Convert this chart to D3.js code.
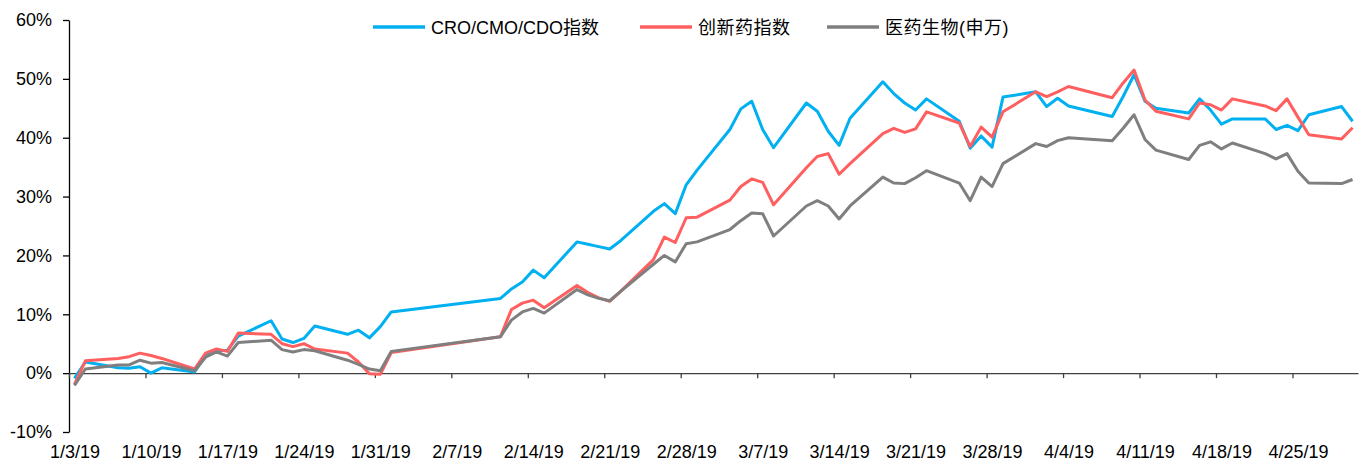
<!DOCTYPE html>
<html>
<head>
<meta charset="utf-8">
<script src="https://cdn.jsdelivr.net/npm/d3@7"></script>
<style>
body { margin: 0; background: #fff; }
text { font-family: "Liberation Sans", Arial, "Noto Sans CJK SC", sans-serif; fill: #000; }
</style>
</head>
<body>
<svg id="chart" width="1372" height="463"></svg>
<script>
// trading days (gaps = weekends / holidays)
var dates = [
	"2019-01-03", "2019-01-04", "2019-01-07", "2019-01-08", "2019-01-09", "2019-01-10", "2019-01-11",
	"2019-01-14", "2019-01-15", "2019-01-16", "2019-01-17", "2019-01-18",
	"2019-01-21", "2019-01-22", "2019-01-23", "2019-01-24", "2019-01-25",
	"2019-01-28", "2019-01-29", "2019-01-30", "2019-01-31", "2019-02-01",
	"2019-02-11", "2019-02-12", "2019-02-13", "2019-02-14", "2019-02-15",
	"2019-02-18", "2019-02-19", "2019-02-20", "2019-02-21", "2019-02-22",
	"2019-02-25", "2019-02-26", "2019-02-27", "2019-02-28", "2019-03-01",
	"2019-03-04", "2019-03-05", "2019-03-06", "2019-03-07", "2019-03-08",
	"2019-03-11", "2019-03-12", "2019-03-13", "2019-03-14", "2019-03-15",
	"2019-03-18", "2019-03-19", "2019-03-20", "2019-03-21", "2019-03-22",
	"2019-03-25", "2019-03-26", "2019-03-27", "2019-03-28", "2019-03-29",
	"2019-04-01", "2019-04-02", "2019-04-03", "2019-04-04",
	"2019-04-08", "2019-04-09", "2019-04-10", "2019-04-11", "2019-04-12",
	"2019-04-15", "2019-04-16", "2019-04-17", "2019-04-18", "2019-04-19",
	"2019-04-22", "2019-04-23", "2019-04-24", "2019-04-25", "2019-04-26",
	"2019-04-29", "2019-04-30"
];

var croIndex = [
	-0.9, 1.9, 0.9, 0.85, 1.1, 0.0, 0.9,
	0.2, 3.0, 3.8, 3.9, 6.3,
	8.9, 5.8, 5.2, 5.9, 8.0,
	6.6, 7.3, 6.0, 7.9, 10.4,
	12.7, 14.3, 15.5, 17.5, 16.2,
	22.3, 21.9, 21.5, 21.1, 22.5,
	27.5, 28.8, 27.1, 32.0, 34.5,
	41.4, 44.9, 46.2, 41.4, 38.3,
	45.9, 44.5, 41.1, 38.7, 43.3,
	49.5, 47.5, 45.9, 44.7, 46.6,
	42.8, 38.2, 40.3, 38.4, 46.9,
	47.8, 45.3, 46.7, 45.4,
	43.6, 47.0, 50.7, 46.2, 45.0,
	44.2, 46.6, 44.7, 42.3, 43.2,
	43.2, 41.4, 42.1, 41.2, 43.9,
	45.3, 42.8
];

var innovIndex = [
	-1.9, 2.1, 2.5, 2.8, 3.4, 3.0, 2.5,
	0.7, 3.4, 4.1, 3.7, 6.8,
	6.6, 5.0, 4.5, 5.0, 4.1,
	3.4, 1.9, -0.1, -0.2, 3.5,
	6.2, 10.8, 11.9, 12.4, 11.1,
	14.9, 13.7, 12.8, 12.2, 13.9,
	19.3, 23.1, 22.2, 26.4, 26.5,
	29.4, 31.7, 33.0, 32.4, 28.6,
	34.9, 36.8, 37.3, 33.8, 35.6,
	40.7, 41.6, 40.9, 41.5, 44.4,
	42.5, 38.5, 41.8, 40.1, 44.4,
	47.8, 47.0, 47.8, 48.7,
	46.8, 49.3, 51.5, 46.4, 44.5,
	43.2, 45.9, 45.6, 44.7, 46.6,
	45.4, 44.6, 46.6, 43.5, 40.5,
	39.8, 41.7
];

var swPharma = [
	-2.1, 0.7, 1.4, 1.4, 2.2, 1.7, 1.8,
	0.4, 2.7, 3.6, 2.9, 5.2,
	5.6, 4.0, 3.6, 4.0, 3.8,
	2.2, 1.5, 0.7, 0.4, 3.7,
	6.2, 9.0, 10.4, 11.0, 10.2,
	14.2, 13.3, 12.7, 12.3, 13.9,
	18.5, 20.0, 18.9, 22.0, 22.3,
	24.4, 25.9, 27.2, 27.1, 23.3,
	28.4, 29.3, 28.4, 26.2, 28.4,
	33.3, 32.3, 32.2, 33.2, 34.4,
	32.3, 29.3, 33.3, 31.7, 35.6,
	39.0, 38.5, 39.5, 40.0,
	39.5, 41.6, 43.9, 39.7, 37.9,
	36.3, 38.7, 39.3, 38.1, 39.1,
	37.3, 36.4, 37.3, 34.3, 32.3,
	32.2, 32.9
];

var seriesNames = ["CRO/CMO/CDO指数", "创新药指数", "医药生物(申万)"];
var seriesColors = ["#00B0F0", "#FF5F5F", "#7F7F7F"];

var xTickLabels = ["1/3/19", "1/10/19", "1/17/19", "1/24/19", "1/31/19", "2/7/19", "2/14/19", "2/21/19",
	"2/28/19", "3/7/19", "3/14/19", "3/21/19", "3/28/19", "4/4/19", "4/11/19", "4/18/19", "4/25/19"];
var yTicks = [-10, 0, 10, 20, 30, 40, 50, 60];

var parseDay = d3.utcParse("%Y-%m-%d");
var parseLabel = d3.utcParse("%m/%d/%y");
var halfDay = 12 * 3600 * 1000;

var svg = d3.select("#chart");

var x = d3.scaleUtc()
	.domain([parseDay("2019-01-03"), parseDay("2019-05-01")])
	.range([69, 1358]);

var y = d3.scaleLinear()
	.domain([-10, 60])
	.range([432, 20]);

// y axis
var yAxis = svg.append("g")
	.attr("transform", "translate(69,0)")
	.call(d3.axisLeft(y)
		.tickValues(yTicks)
		.tickSize(6)
		.tickSizeOuter(0)
		.tickFormat(function(d) { return d + "%"; }));
yAxis.select(".domain").attr("stroke", "#000").attr("stroke-width", 1.3);
yAxis.selectAll(".tick line").attr("stroke", "#000").attr("stroke-width", 1.3);
yAxis.selectAll("text")
	.attr("x", -17)
	.attr("font-size", "18px")
	.attr("fill", "#000");

// x axis on the 0% line
var tickDates = xTickLabels.map(function(s) { return parseLabel(s); });
var xAxis = svg.append("g")
	.attr("transform", "translate(0," + y(0) + ")")
	.call(d3.axisBottom(x)
		.tickValues(tickDates)
		.tickSize(5)
		.tickSizeOuter(0)
		.tickFormat(function(d, i) { return xTickLabels[i]; }));
xAxis.select(".domain").attr("stroke", "#404040").attr("stroke-width", 1.3);
xAxis.selectAll(".tick line").attr("stroke", "#404040").attr("stroke-width", 1.3);
xAxis.selectAll("text")
	.attr("dx", x(new Date(+tickDates[0] + halfDay)) - x(tickDates[0]))
	.attr("dy", null)
	.attr("y", 458 - y(0))
	.attr("font-size", "18px")
	.attr("fill", "#000");
svg.selectAll(".tick text").style("font-family", "'Liberation Sans', Arial, sans-serif");

// lines
var points = dates.map(function(s) { return new Date(+parseDay(s) + halfDay); });
var allSeries = [croIndex, innovIndex, swPharma];

var line = d3.line()
	.x(function(d, i) { return x(points[i]); })
	.y(function(d) { return y(d); });

svg.selectAll(".series")
	.data(allSeries)
	.enter()
	.append("path")
	.attr("class", "series")
	.attr("fill", "none")
	.attr("stroke", function(d, i) { return seriesColors[i]; })
	.attr("stroke-width", 3)
	.attr("stroke-linejoin", "round")
	.attr("d", line);

// legend
var legendX = [373, 640, 827];
var legend = svg.selectAll(".legend")
	.data(seriesNames)
	.enter()
	.append("g")
	.attr("class", "legend")
	.attr("transform", function(d, i) { return "translate(" + legendX[i] + ",0)"; });

legend.append("line")
	.attr("x1", 0)
	.attr("x2", 52)
	.attr("y1", 27)
	.attr("y2", 27)
	.attr("stroke", function(d, i) { return seriesColors[i]; })
	.attr("stroke-width", 3.5);

legend.append("text")
	.attr("x", 58)
	.attr("y", 34)
	.attr("font-size", "18px")
	.attr("letter-spacing", function(d, i) { return i === 0 ? 0 : 0.5; })
	.text(function(d) { return d; });
</script>
</body>
</html>
